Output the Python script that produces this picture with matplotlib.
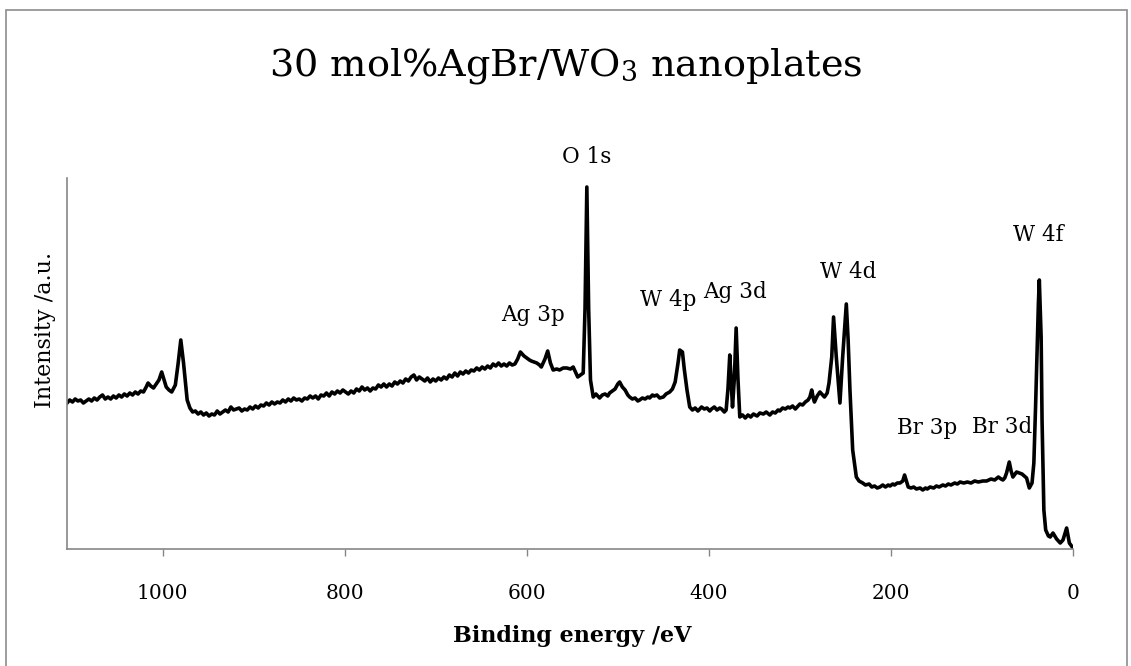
import matplotlib
matplotlib.use("Agg")
import matplotlib.pyplot as plt
from matplotlib.patches import Rectangle

plt.rcParams['font.family'] = ['DejaVu Serif']
plt.rcParams['mathtext.fontset'] = 'dejavuserif'

W, H = 1131, 666

# XPS survey of 30 mol% AgBr/WO3: (binding energy eV, intensity a.u.)
spectrum = [
    (1105, 146), (1102, 149), (1099, 147), (1096, 150), (1093, 148), (1090, 149),
    (1087, 146), (1084, 148), (1081, 150), (1078, 148), (1075, 151), (1072, 149),
    (1069, 152), (1066, 154), (1063, 150), (1060, 152), (1057, 150), (1054, 153),
    (1051, 151), (1048, 154), (1045, 152), (1042, 155), (1039, 153), (1036, 156),
    (1033, 154), (1030, 157), (1027, 155), (1024, 158), (1021, 157), (1018, 162),
    (1016, 166), (1013, 163), (1010, 161), (1007, 165), (1004, 169), (1001, 177),
    (998, 168), (996, 162), (993, 159), (990, 157), (986, 164), (983, 185),
    (980, 209), (977, 186), (975, 168), (973, 149), (970, 141), (967, 137),
    (964, 138), (961, 135), (958, 137), (955, 134), (952, 136), (949, 133),
    (946, 135), (943, 134), (940, 138), (937, 135), (934, 137), (931, 139),
    (928, 137), (925, 142), (922, 139), (919, 140), (916, 141), (913, 138),
    (910, 140), (907, 139), (904, 142), (901, 140), (898, 143), (895, 141),
    (892, 144), (889, 143), (886, 146), (883, 144), (880, 147), (877, 145),
    (874, 147), (871, 146), (868, 149), (865, 147), (862, 150), (859, 148),
    (856, 151), (853, 149), (850, 150), (847, 148), (844, 151), (841, 150),
    (838, 153), (835, 151), (832, 153), (829, 150), (826, 154), (823, 153),
    (820, 156), (817, 153), (814, 157), (811, 155), (808, 158), (805, 156),
    (802, 159), (799, 157), (796, 155), (793, 158), (790, 156), (787, 160),
    (784, 158), (781, 162), (778, 159), (775, 161), (772, 158), (769, 161),
    (766, 160), (763, 164), (760, 162), (757, 165), (754, 162), (751, 165),
    (748, 163), (745, 167), (742, 165), (739, 168), (736, 166), (733, 170),
    (730, 168), (727, 172), (724, 174), (721, 169), (718, 172), (715, 170),
    (712, 168), (709, 171), (706, 167), (703, 170), (700, 168), (697, 171),
    (694, 169), (691, 172), (688, 170), (685, 174), (682, 172), (679, 176),
    (676, 173), (673, 177), (670, 175), (667, 178), (664, 176), (661, 179),
    (658, 178), (655, 181), (652, 179), (649, 182), (646, 180), (643, 183),
    (640, 181), (637, 185), (634, 183), (631, 186), (628, 183), (625, 185),
    (622, 183), (619, 186), (616, 184), (613, 185), (610, 190), (607, 197),
    (603, 193), (600, 191), (597, 189), (595, 188), (592, 187), (589, 186),
    (586, 184), (584, 182), (580, 190), (577, 198), (574, 186), (571, 179),
    (567, 180), (564, 179), (560, 181), (556, 181), (552, 180), (549, 182),
    (544, 172), (541, 174), (538, 176), (536, 240), (534, 362), (532, 240),
    (530, 169), (527, 152), (524, 155), (522, 153), (520, 151), (517, 154),
    (514, 155), (511, 153), (509, 156), (506, 158), (503, 160), (500, 165),
    (498, 167), (495, 162), (492, 159), (489, 154), (487, 152), (484, 150),
    (481, 151), (478, 148), (476, 149), (473, 151), (470, 150), (467, 152),
    (465, 151), (462, 154), (460, 153), (457, 154), (454, 151), (450, 152),
    (447, 155), (443, 157), (440, 160), (437, 167), (434, 185), (432, 199),
    (429, 197), (427, 180), (424, 159), (421, 142), (418, 139), (415, 141),
    (412, 138), (408, 142), (405, 140), (402, 141), (399, 138), (397, 140),
    (394, 142), (391, 139), (388, 141), (386, 140), (383, 137), (381, 139),
    (379, 160), (377, 194), (375, 160), (374, 142), (372, 170), (370, 221),
    (368, 170), (366, 132), (363, 134), (360, 131), (357, 134), (354, 132),
    (351, 135), (347, 133), (344, 136), (340, 135), (337, 137), (333, 134),
    (330, 137), (327, 136), (324, 139), (322, 138), (319, 141), (316, 140),
    (313, 142), (311, 141), (308, 143), (305, 140), (303, 142), (300, 145),
    (297, 144), (294, 147), (291, 149), (289, 152), (287, 159), (285, 150),
    (284, 147), (281, 153), (278, 157), (275, 154), (273, 152), (270, 156),
    (268, 166), (265, 192), (263, 232), (260, 192), (256, 146), (253, 192),
    (249, 245), (247, 209), (245, 159), (242, 99), (238, 72), (235, 68),
    (231, 66), (228, 64), (224, 65), (221, 62), (218, 63), (215, 61),
    (212, 62), (209, 64), (206, 62), (203, 64), (201, 63), (198, 65),
    (196, 64), (193, 66), (190, 66), (187, 68), (185, 74), (183, 68),
    (181, 62), (178, 61), (175, 62), (172, 60), (168, 61), (165, 59),
    (162, 61), (160, 60), (157, 62), (153, 61), (150, 63), (147, 62),
    (143, 64), (140, 63), (137, 65), (134, 64), (130, 66), (127, 65),
    (124, 67), (120, 66), (116, 67), (112, 66), (108, 68), (104, 67),
    (99, 68), (95, 68), (90, 70), (86, 69), (82, 72), (79, 70),
    (77, 69), (75, 71), (73, 76), (70, 87), (68, 78), (66, 72),
    (62, 77), (56, 75), (51, 71), (48, 61), (45, 66), (43, 86),
    (41, 146), (38, 246), (37, 269), (35, 212), (34, 129), (32, 39),
    (30, 19), (27, 13), (25, 12), (22, 16), (18, 10), (14, 6),
    (11, 9), (7, 21), (4, 6), (0, 1),
]
be = [p[0] for p in spectrum]
counts = [p[1] for p in spectrum]

peak_names = ['O 1s', 'Ag 3p', 'W 4p', 'Ag 3d', 'W 4d', 'Br 3p', 'Br 3d', 'W 4f']
name_be = [534, 593, 445, 371, 247, 160, 78, 38]
name_int = [392, 234, 249, 257, 277, 121, 122, 314]

xticks = [1000, 800, 600, 400, 200, 0]

fig = plt.figure(figsize=(W / 100, H / 100), dpi=100)
ax = fig.add_axes([67 / W, 1 - 549 / H, 1006 / W, 371 / H])

ax.plot(be, counts, color='black', lw=2.6, solid_joinstyle='round')

ax.set_xlim(1105, 0)
ax.set_ylim(0, 371)
ax.set_xticks(xticks)
ax.set_yticks([])
ax.tick_params(axis='x', direction='out', length=5, width=1, color='#868686',
               labelsize=14.5, pad=20)

for side in ['top', 'right']:
    ax.spines[side].set_visible(False)
for side in ['left', 'bottom']:
    ax.spines[side].set_color('#868686')
    ax.spines[side].set_linewidth(1.2)

for name, x, y in zip(peak_names, name_be, name_int):
    ax.text(x, y, name, ha='center', va='center', fontsize=15.5, clip_on=False)

fig.text(572 / W, 1 - 636 / H, 'Binding energy /eV', ha='center', va='center',
         fontsize=16, fontweight='bold')
fig.text(45 / W, 1 - 330 / H, 'Intensity /a.u.', ha='center', va='center',
         rotation=90, fontsize=16)

fig.text(0.5, 1 - 66 / H, '30 mol%AgBr/WO$_3$ nanoplates', ha='center',
         va='center', fontsize=27.5)

# outer chart frame
fig.patches.append(Rectangle((6 / W, -0.05), 1121 / W, 1.05 - 10 / H,
                             transform=fig.transFigure, fill=False,
                             edgecolor='#8c8c8c', lw=1.2))

fig.savefig('out.png', dpi=100)
